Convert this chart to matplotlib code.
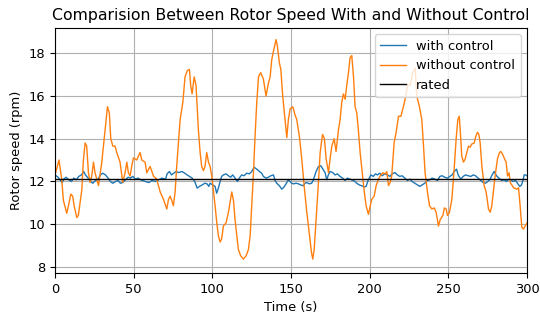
"""rotor speed with and without control vs rated speed."""
import numpy as np
import matplotlib
matplotlib.use('Agg')
import matplotlib.pyplot as plt

# without control
time_wo = [0, 2.5, 4.2, 5.3, 7.4, 8.5, 10.0, 11.2, 12.1, 13.8, 14.8, 17.0, 18.0, 19.1, 20.1,
           21.2, 22.3, 23.3, 24.4, 25.4, 27.6, 29.7, 31.8, 33.3, 34.5, 35.4, 36.7, 38.1, 39.2,
           41.3, 43.0, 44.5, 45.6, 46.6, 47.7, 48.7, 49.8, 51.9, 54.0, 55.1, 57.2, 58.3, 60.4,
           62.5, 64.6, 66.8, 68.9, 71.0, 72.1, 73.1, 74.2, 75.2, 76.3, 77.3, 79.5, 81.2, 82.6,
           84.1, 85.4, 86.2, 87.1, 88.4, 89.6, 91.1, 92.2, 93.2, 94.3, 95.3, 96.4, 97.5, 98.5,
           99.6, 100.6, 101.7, 102.8, 103.8, 104.9, 105.9, 107.0, 108.7, 110.2, 111.2, 112.3,
           113.4, 114.4, 115.5, 116.5, 118.0, 119.7, 121.4, 122.9, 124.0, 125.0, 126.1, 127.1,
           128.2, 129.3, 130.7, 132.4, 134.1, 135.6, 136.7, 137.7, 138.8, 140.5, 141.3, 142.6,
           143.5, 144.7, 146.2, 147.3, 148.3, 149.4, 151.1, 152.6, 153.6, 155.3, 156.8, 158.3,
           160.0, 161.7, 163.0, 163.8, 164.7, 165.9, 167.4, 168.5, 170.0, 171.2, 172.3, 173.8,
           174.8, 175.9, 177.4, 178.6, 180.1, 181.2, 182.2, 183.3, 184.4, 185.4, 186.5, 187.5,
           188.6, 189.7, 190.7, 191.8, 192.8, 193.9, 195.0, 196.4, 197.7, 199.2, 200.3, 201.3,
           202.8, 204.1, 205.6, 206.6, 208.3, 209.8, 210.9, 211.9, 213.0, 214.0, 215.5, 216.8,
           218.3, 219.8, 221.4, 222.5, 224.0, 225.7, 227.4, 228.9, 229.9, 231.6, 233.1, 234.2,
           235.2, 236.7, 238.0, 239.5, 241.0, 242.2, 243.7, 244.8, 246.5, 247.5, 248.6, 249.4,
           250.7, 252.2, 253.7, 254.9, 256.0, 256.9, 257.5, 258.5, 259.6, 260.7, 261.7, 262.8,
           263.8, 264.9, 266.4, 267.4, 268.5, 269.4, 270.2, 271.3, 272.7, 274.0, 275.5, 276.6,
           277.6, 278.7, 279.7, 281.2, 282.5, 283.3, 284.6, 285.7, 286.7, 287.6, 288.6, 289.3,
           291.4, 293.5, 294.6, 295.6, 296.7, 297.7, 298.8, 300.0]
speed_wo = [12.3, 13.0, 12.1, 11.1, 10.5, 10.85, 11.4, 11.3, 10.85, 10.3, 10.4, 11.6, 13.0, 13.8,
            13.65, 12.4, 11.95, 12.25, 12.9, 12.4, 11.8, 12.9, 14.4, 15.5, 15.2, 14.0, 13.65,
            13.65, 13.35, 12.9, 11.95, 12.4, 12.9, 12.4, 12.25, 12.7, 13.1, 13.0, 13.35, 13.0,
            12.9, 12.4, 12.7, 12.25, 12.1, 11.5, 11.15, 10.7, 11.15, 11.3, 11.1, 10.85, 11.5,
            12.7, 14.9, 15.7, 16.9, 17.2, 17.25, 16.5, 16.1, 16.9, 16.5, 14.4, 13.35, 12.7, 12.5,
            12.7, 13.35, 12.9, 12.7, 12.25, 11.6, 10.85, 10.05, 9.45, 9.15, 9.3, 9.9, 10.05,
            10.55, 11.0, 11.5, 11.1, 10.2, 9.45, 8.8, 8.5, 8.35, 8.5, 8.8, 9.45, 10.85, 12.4,
            14.1, 15.7, 16.9, 17.1, 16.8, 16.0, 16.6, 16.9, 17.7, 18.1, 18.65, 18.35, 17.55,
            17.25, 16.0, 14.9, 14.05, 14.9, 15.4, 15.5, 15.1, 14.9, 14.1, 13.05, 11.8, 10.55,
            9.45, 8.65, 8.35, 8.8, 10.2, 11.95, 13.35, 14.2, 14.0, 13.05, 12.4, 13.05, 13.65,
            14.0, 13.4, 14.4, 14.9, 15.7, 16.1, 15.85, 16.5, 17.1, 17.8, 17.9, 16.9, 15.5, 15.2,
            14.4, 13.35, 12.6, 11.6, 10.85, 10.45, 10.85, 11.15, 11.3, 11.8, 12.1, 12.25, 12.4,
            12.35, 12.45, 11.8, 11.95, 12.25, 13.8, 14.3, 15.05, 15.05, 15.5, 15.85, 16.5, 16.5,
            17.1, 17.3, 16.0, 15.5, 14.9, 13.65, 12.4, 11.5, 10.85, 10.7, 10.75, 10.55, 9.9,
            10.2, 10.4, 10.75, 10.7, 10.4, 10.55, 11.15, 12.6, 13.95, 14.9, 15.05, 14.45, 13.2,
            12.9, 13.05, 13.35, 13.65, 13.6, 13.75, 13.8, 14.1, 14.3, 14.2, 13.8, 12.7, 11.8,
            11.5, 10.7, 10.55, 10.85, 11.6, 12.25, 13.05, 13.35, 13.4, 13.25, 13.05, 12.9, 12.25,
            12.4, 11.95, 11.7, 11.63, 11.7, 10.85, 9.83, 9.76, 9.9, 10.05]

# with control
time_c = [0, 1.9, 3.4, 4.5, 5.5, 7.0, 8.7, 10.4, 11.9, 13.4, 15.1, 16.7, 18.2, 19.3, 21.0, 22.5,
          24.0, 25.7, 27.3, 28.8, 30.3, 32.0, 33.7, 35.2, 36.7, 38.4, 40.1, 41.5, 43.0, 44.7,
          46.4, 47.9, 49.4, 51.1, 52.8, 54.3, 55.7, 57.4, 59.6, 61.7, 63.8, 65.9, 68.0, 70.2,
          71.2, 72.7, 74.0, 75.5, 76.9, 78.6, 80.7, 82.4, 83.9, 85.4, 87.1, 88.8, 90.3, 91.8,
          93.5, 95.2, 96.6, 97.7, 98.5, 100.2, 101.7, 102.7, 103.8, 104.9, 105.9, 107.0, 108.7,
          110.2, 111.6, 112.9, 114.4, 115.9, 117.1, 118.6, 120.1, 121.8, 123.5, 125.0, 126.5,
          128.2, 129.9, 131.3, 132.4, 134.1, 135.6, 137.1, 138.8, 139.8, 140.9, 142.6, 144.1,
          145.5, 146.8, 148.3, 149.4, 150.4, 151.5, 153.2, 154.7, 156.1, 157.8, 158.9, 160.0,
          161.6, 163.1, 164.2, 165.9, 167.4, 168.9, 170.5, 171.6, 172.7, 173.7, 174.8, 176.5,
          178.0, 179.4, 181.1, 182.8, 184.3, 185.8, 187.5, 189.2, 190.7, 191.7, 193.4, 194.9,
          196.4, 197.7, 199.0, 200.7, 202.2, 203.7, 204.9, 206.4, 207.9, 209.6, 211.3, 212.8,
          214.3, 216.0, 217.6, 219.1, 220.6, 222.3, 224.0, 225.5, 227.0, 228.7, 230.4, 231.8,
          233.3, 235.0, 236.7, 238.2, 239.7, 241.4, 243.1, 244.6, 246.0, 247.7, 249.4, 250.9,
          252.4, 253.7, 255.2, 256.2, 257.9, 259.4, 260.9, 262.6, 264.3, 265.8, 267.2, 268.9,
          270.6, 272.1, 273.6, 274.9, 276.3, 277.8, 279.1, 280.6, 282.1, 283.8, 285.5, 286.9,
          288.4, 289.7, 291.2, 292.7, 293.9, 295.4, 296.5, 297.5, 298.2, 299.0, 300.0]
speed_c = [12.30, 12.19, 12.04, 11.94, 12.10, 12.19, 12.07, 11.99, 12.15, 12.07, 12.23, 12.30,
           12.46, 12.30, 12.15, 11.99, 11.91, 12.04, 12.10, 12.30, 12.38, 12.30, 12.15, 11.99,
           11.91, 11.99, 12.04, 11.91, 11.94, 12.07, 12.19, 12.15, 12.23, 12.10, 12.15, 12.07,
           12.04, 11.99, 11.94, 12.04, 11.99, 12.07, 12.15, 12.10, 12.35, 12.46, 12.30, 12.38,
           12.46, 12.41, 12.46, 12.38, 12.30, 12.23, 12.15, 11.99, 11.68, 11.76, 11.83, 11.91,
           11.88, 11.76, 11.91, 11.83, 11.76, 11.44, 11.68, 11.99, 12.23, 12.30, 12.35, 12.26,
           12.19, 12.30, 12.15, 11.99, 12.15, 12.30, 12.26, 12.38, 12.35, 12.46, 12.66, 12.57,
           12.46, 12.38, 12.23, 12.15, 12.19, 12.26, 12.30, 12.04, 11.91, 11.79, 11.63, 11.73,
           11.88, 12.07, 11.99, 11.91, 11.88, 11.91, 11.88, 11.83, 11.79, 11.91, 11.94, 11.88,
           11.91, 12.07, 12.46, 12.69, 12.73, 12.54, 12.41, 12.07, 12.30, 12.46, 12.41, 12.30,
           12.35, 12.23, 12.15, 12.04, 12.15, 12.10, 12.04, 11.99, 11.91, 11.83, 11.79, 11.73,
           11.76, 12.05, 12.30, 12.23, 12.35, 12.30, 12.38, 12.26, 12.35, 12.30, 12.23, 12.35,
           12.41, 12.30, 12.23, 12.26, 12.15, 12.04, 12.10, 11.99, 11.91, 11.83, 11.76, 11.83,
           11.91, 12.04, 12.07, 12.15, 12.10, 12.04, 12.23, 12.26, 12.19, 12.15, 12.23, 12.30,
           12.46, 12.57, 12.30, 12.10, 12.23, 12.30, 12.26, 12.23, 12.30, 12.26, 12.15, 12.04,
           11.94, 11.91, 11.99, 12.07, 12.30, 12.46, 12.26, 12.15, 12.04, 12.07, 11.99, 12.10,
           12.07, 11.99, 12.04, 11.91, 11.76, 11.83, 12.07, 12.30, 12.30, 12.26]

rated_speed = 12.1

fig, ax = plt.subplots(figsize=(5.4, 3.13), dpi=100)
fig.subplots_adjust(left=0.102, right=0.976, top=0.911, bottom=0.128)

ax.plot(time_c, speed_c, color='tab:blue', lw=1.0, label='with control')
ax.plot(time_wo, speed_wo, color='tab:orange', lw=1.0, label='without control')
ax.axhline(rated_speed, color='black', lw=1.0, label='rated')

ax.set_xlim(0, 300)
ax.set_ylim(7.7, 19.2)
ax.set_yticks(np.arange(8, 19, 2))
ax.tick_params(labelsize=9.4)
ax.set_xlabel('Time (s)', fontsize=9.4)
ax.set_ylabel('Rotor speed (rpm)', fontsize=9.4)
ax.set_title('Comparision Between Rotor Speed With and Without Control', fontsize=11.3)
ax.grid(True)
ax.legend(loc='upper right', fontsize=9.4)

fig.savefig('out.png', dpi=100)
